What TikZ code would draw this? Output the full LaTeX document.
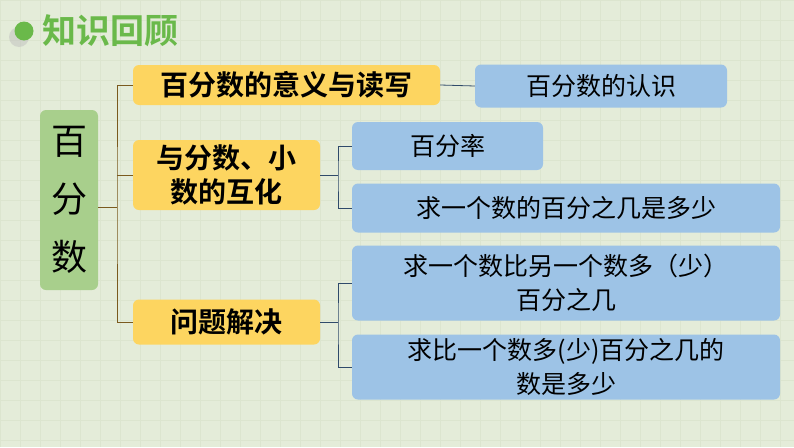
\documentclass[tikz,border=0pt]{standalone}
\usepackage{fontspec}
\newfontfamily\cjk{Noto Sans CJK SC}
\newfontfamily\cjkb{Noto Sans CJK SC Bold}
\definecolor{bg}{HTML}{E4ECD9}
\definecolor{gridc}{HTML}{DCE5CF}
\definecolor{tgreen}{HTML}{6AB94A}
\definecolor{boxg}{HTML}{A8CF8C}
\definecolor{yel}{HTML}{FDD560}
\definecolor{blu}{HTML}{9DC3E6}
\definecolor{brown}{HTML}{7A5A1E}
\definecolor{navy}{HTML}{2F4A6A}
\tikzset{
 ybox/.style={fill=yel,rounded corners=6pt,inner sep=0pt,font=\cjkb\fontsize{28}{34}\selectfont,align=center},
 bbox/.style={fill=blu,rounded corners=6pt,inner sep=0pt,font=\cjk\fontsize{25}{34}\selectfont,align=center},
 bl/.style={brown,line width=1pt},
 nl/.style={navy,line width=0.8pt}
}
\begin{document}
\begin{tikzpicture}[x=1pt,y=-1pt]
\fill[bg] (0,0) rectangle (794,447);
\useasboundingbox (0,0) rectangle (794,447);
\foreach \i in {0,20,...,780}{\draw[gridc,line width=0.4pt] (\i,0)--(\i,447);}
\foreach \j in {0,20,...,440}{\draw[gridc,line width=0.4pt] (0,\j)--(794,\j);}
\fill[gray!50,opacity=0.5] (19,37) circle (10);
\node[circle,fill=tgreen,minimum size=19pt,inner sep=0pt] (dot) at (24,31) {};
\node[anchor=west,text=tgreen,font=\cjkb\fontsize{34}{36}\selectfont,inner sep=0pt] (title) at (42,31) {知识回顾};
\node[fill=boxg,rounded corners=6pt,minimum width=58pt,minimum height=180pt,inner sep=0pt,font=\cjk\fontsize{36}{58}\selectfont,align=center] (root) at (69,200) {百\\分\\数};
\node[ybox,minimum width=307pt,minimum height=40pt] (y1) at (286.5,85) {百分数的意义与读写};
\node[ybox,minimum width=187pt,minimum height=70pt] (y2) at (226.5,175) {与分数、小\\数的互化};
\node[ybox,minimum width=187pt,minimum height=45pt] (y3) at (226.5,322) {问题解决};
\node[bbox,minimum width=252pt,minimum height=43pt] (b1) at (601,86) {百分数的认识};
\node[bbox,minimum width=191pt,minimum height=48pt] (b2) at (447.5,146) {百分率};
\node[bbox,minimum width=428pt,minimum height=49pt] (b3) at (566,208) {求一个数的百分之几是多少};
\node[bbox,minimum width=428pt,minimum height=75pt] (b4) at (566,283) {求一个数比另一个数多（少）\\百分之几};
\node[bbox,minimum width=428pt,minimum height=65pt] (b5) at (566,367) {求比一个数多(少)百分之几的\\数是多少};
\coordinate (j1) at (117,207);
\draw[bl] (root.east |- j1) -- (j1);
\draw[bl] (y1.west) -| (j1) |- (y3.west);
\draw[bl] (j1 |- y2.west) -- (y2.west);
\draw[nl] (y1.east) -- (b1.west);
\coordinate (j2) at (338,175);
\draw[nl] (y2.east) -- (j2);
\draw[nl] (b2.west) -| (j2) |- (b3.west);
\coordinate (j3) at (338,322);
\draw[nl] (y3.east) -- (j3);
\draw[nl] (b4.west) -| (j3) |- (b5.west);
\end{tikzpicture}
\end{document}
